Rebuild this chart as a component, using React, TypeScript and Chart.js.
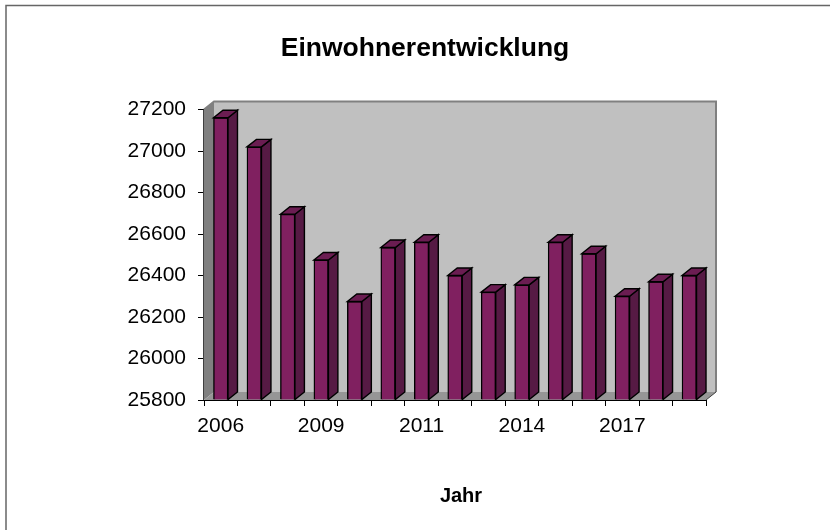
import React, { useEffect, useRef } from "react";
import { Chart, registerables } from "chart.js";

Chart.register(...registerables);

const categories = ["2006", "2007", "2008", "2009", "2010", "2010", "2011", "2012", "2013", "2014", "2015", "2016", "2017", "2018", "2019"];
const residents = [27160, 27020, 26695, 26475, 26275, 26535, 26560, 26400, 26320, 26355, 26560, 26505, 26300, 26370, 26400];
const titleText = "Einwohnerentwicklung";
const xAxisTitle = "Jahr";
const yMin = 25800;
const yMax = 27200;

const DX = 9.5;
const DY = 7.5;
const WALL_DX = 10;
const WALL_DY = 8;
const FONT = "'Liberation Sans', Arial, sans-serif";

const poly = (ctx: CanvasRenderingContext2D, pts: number[][], fill: string, stroke?: string, lw = 1) => {
  ctx.beginPath();
  pts.forEach(([x, y], i) => (i ? ctx.lineTo(x, y) : ctx.moveTo(x, y)));
  ctx.closePath();
  ctx.fillStyle = fill;
  ctx.fill();
  if (stroke) {
    ctx.strokeStyle = stroke;
    ctx.lineWidth = lw;
    ctx.stroke();
  }
};

const frame3d = {
  id: "frame3d",
  beforeDatasetsDraw(chart: any) {
    const { ctx, chartArea: a } = chart;
    ctx.save();
    const l = a.left, r = a.right, t = a.top, b = a.bottom;
    // wall
    poly(ctx, [[l + WALL_DX, t - WALL_DY], [r + WALL_DX, t - WALL_DY], [r + WALL_DX, b - WALL_DY], [l + WALL_DX, b - WALL_DY]], "#C0C0C0");
    ctx.strokeStyle = "#808080";
    ctx.lineWidth = 2;
    ctx.beginPath();
    ctx.moveTo(l, t);
    ctx.lineTo(l + WALL_DX, t - WALL_DY);
    ctx.lineTo(r + WALL_DX, t - WALL_DY);
    ctx.lineTo(r + WALL_DX, b - WALL_DY);
    ctx.stroke();
    // side wall
    poly(ctx, [[l, t], [l + WALL_DX, t - WALL_DY], [l + WALL_DX, b - WALL_DY], [l, b]], "#808080");
    // floor
    poly(ctx, [[l, b], [l + WALL_DX, b - WALL_DY], [r + WALL_DX, b - WALL_DY], [r, b]], "#969696");
    ctx.strokeStyle = "#404040";
    ctx.lineWidth = 1;
    ctx.beginPath();
    ctx.moveTo(r, b);
    ctx.lineTo(r + WALL_DX, b - WALL_DY);
    ctx.stroke();
    // left axis line
    ctx.beginPath();
    ctx.moveTo(l - 0.5, t);
    ctx.lineTo(l - 0.5, b);
    ctx.stroke();
    ctx.restore();
  },
  afterDatasetsDraw(chart: any) {
    const { ctx } = chart;
    ctx.save();
    chart.getDatasetMeta(0).data.forEach((bar: any) => {
      const left = bar.x - bar.width / 2;
      const right = bar.x + bar.width / 2;
      const top = bar.y;
      const base = bar.base;
      poly(ctx, [[right, top], [right + DX, top - DY], [right + DX, base - DY], [right, base]], "#561A44", "#000000", 1.4);
      poly(ctx, [[left, top], [left + DX, top - DY], [right + DX, top - DY], [right, top]], "#6B1D52", "#000000", 1.4);
    });
    ctx.restore();
  },
  afterDraw(chart: any) {
    const { ctx } = chart;
    ctx.save();
    // page frame: top and left edges only
    ctx.strokeStyle = "#666666";
    ctx.lineWidth = 1.5;
    ctx.beginPath();
    ctx.moveTo(6, 530);
    ctx.lineTo(6, 5.5);
    ctx.lineTo(830, 5.5);
    ctx.stroke();
    // x axis title
    ctx.fillStyle = "#000000";
    ctx.font = `bold 20px ${FONT}`;
    ctx.textAlign = "center";
    ctx.textBaseline = "middle";
    ctx.fillText(chart.options.scales.x.title.text, 461, 496);
    ctx.restore();
  },
};

export default function App() {
  const ref = useRef<HTMLCanvasElement>(null);
  useEffect(() => {
    document.body.style.margin = "0";
    const chart = new Chart(ref.current!, {
      type: "bar",
      data: {
        labels: categories,
        datasets: [
          {
            data: residents,
            base: yMin,
            backgroundColor: "#802060",
            borderColor: "#000000",
            borderWidth: 1.4,
            barThickness: 14.5,
            yAxisID: "y",
          },
        ],
      },
      plugins: [frame3d],
      options: {
        responsive: false,
        animation: false,
        layout: { padding: { left: 20, right: 0, top: 0, bottom: 0 } },
        plugins: {
          legend: { display: false },
          tooltip: { enabled: false },
          title: {
            display: true,
            text: titleText,
            color: "#000000",
            font: { family: FONT, size: 26.5, weight: "bold" },
            padding: { top: 33, bottom: 44.7 },
          },
        },
        scales: {
          x: {
            title: { display: false, text: xAxisTitle },
            grid: { drawOnChartArea: false, drawTicks: true, tickLength: 6, tickColor: "#000000", offset: true },
            border: { color: "#000000", width: 1 },
            afterFit: (s: any) => { s.height = 130; },
            ticks: {
              autoSkip: false,
              maxRotation: 0,
              color: "#000000",
              font: { family: FONT, size: 21 },
              padding: 8,
              callback: (_: any, i: number) => (i % 3 === 0 && i < 14 ? categories[i] : ""),
            },
          },
          y: {
            min: yMin,
            max: yMax,
            grid: { drawOnChartArea: false, drawTicks: true, tickLength: 6, tickColor: "#000000" },
            border: { display: false },
            afterFit: (s: any) => { s.width = 184; },
            ticks: {
              stepSize: 200,
              color: "#000000",
              font: { family: FONT, size: 21 },
              padding: 12,
              callback: (v: any) => String(v),
            },
          },
          spacer: {
            position: "right",
            display: true,
            grid: { display: false, drawTicks: false },
            border: { display: false },
            ticks: { display: false },
            afterFit: (s: any) => { s.width = 124; },
          },
        },
      },
    } as any);
    return () => chart.destroy();
  }, []);
  return <canvas ref={ref} width={830} height={530} style={{ display: "block" }} />;
}
